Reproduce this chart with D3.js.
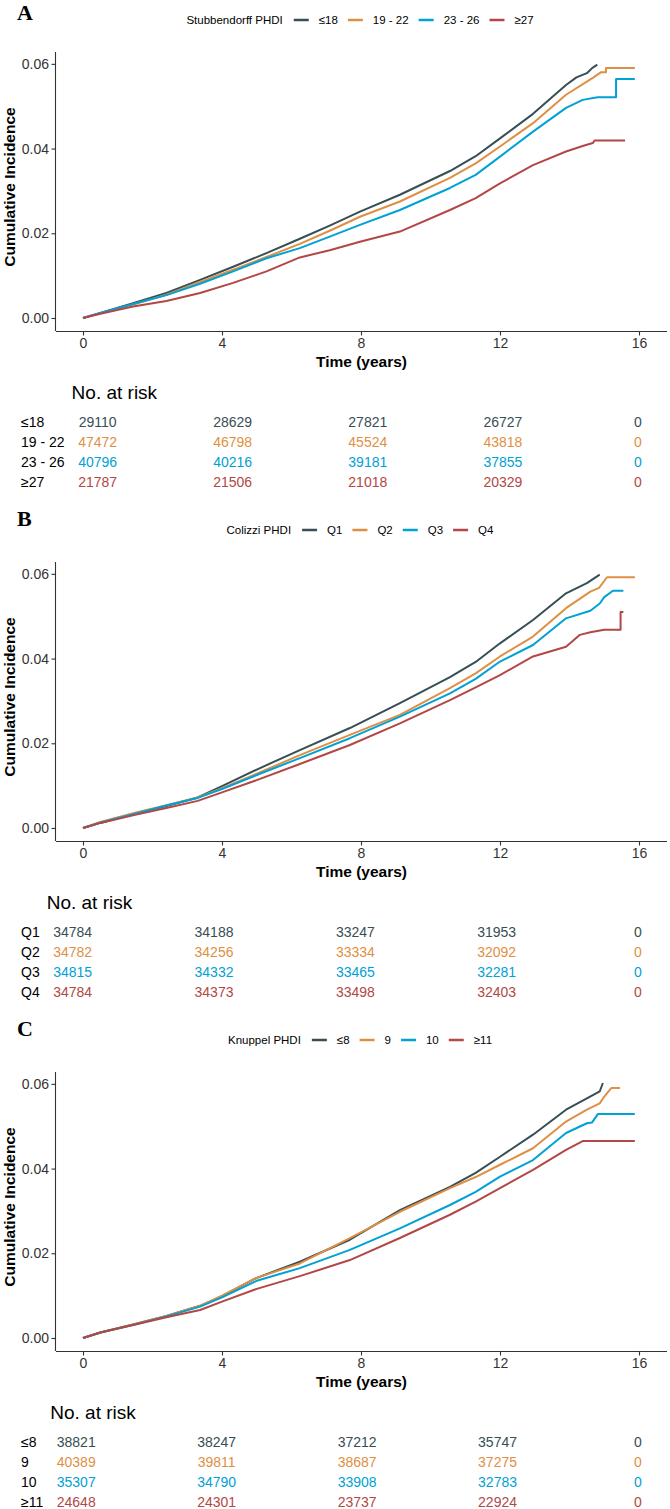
<!DOCTYPE html>
<html><head><meta charset="utf-8">
<script src="https://cdn.jsdelivr.net/npm/d3@7"></script>
<style>
html,body{margin:0;padding:0;background:#fff;}
svg{display:block;}
text{font-family:"Liberation Sans",Arial,sans-serif;}
</style></head>
<body>
<svg id="chart" width="670" height="1509"></svg>
<script>
// ---------------- DATA ----------------
const colors = ["#374E55", "#DF8F44", "#00A1D5", "#B24745"];
const xTicks = [0, 4, 8, 12, 16];
const yTicks = [0, 0.02, 0.04, 0.06];
const riskTimes = [0, 4, 8, 12, 16];

// Panel A: Stubbendorff PHDI
const stubLabels = ["\u226418", "19 - 22", "23 - 26", "\u226527"];
const stubLe18 = [[0,0],[0.5,0.0012],[1.44,0.0035],[2.4,0.0059],[3.37,0.009],[4.32,0.0121],[5.28,0.0153],[6.24,0.0187],[7.1,0.0218],[7.97,0.0251],[9.12,0.0291],[10.56,0.0347],[11.3,0.0382],[12.0,0.0424],[12.95,0.0482],[13.9,0.055],[14.2,0.0568],[14.5,0.0578],[14.65,0.059],[14.8,0.0598]];
const stub19_22 = [[0,0],[0.5,0.0011],[1.44,0.0032],[2.4,0.0055],[3.37,0.0085],[4.32,0.0114],[5.28,0.0144],[6.24,0.0175],[7.1,0.0206],[7.97,0.0239],[9.12,0.0275],[10.56,0.0331],[11.3,0.0365],[12.0,0.0405],[12.95,0.046],[13.9,0.0527],[14.67,0.0567],[14.9,0.058],[15.05,0.058],[15.05,0.059],[15.88,0.059]];
const stub23_26 = [[0,0],[0.5,0.0012],[1.44,0.0033],[2.4,0.0054],[3.37,0.0081],[4.32,0.011],[5.28,0.0141],[6.24,0.0165],[7.1,0.0192],[7.97,0.022],[9.12,0.0255],[10.56,0.0307],[11.3,0.0338],[12.0,0.0381],[12.95,0.044],[13.9,0.0496],[14.38,0.0515],[14.81,0.0521],[15.34,0.0521],[15.34,0.0564],[15.88,0.0564]];
const stubGe27 = [[0,0],[0.5,0.001],[1.44,0.0027],[2.4,0.004],[3.37,0.0059],[4.32,0.0083],[5.28,0.011],[6.24,0.0143],[7.1,0.016],[7.97,0.018],[9.12,0.0204],[10.56,0.0255],[11.3,0.0283],[12.0,0.0318],[12.95,0.0361],[13.9,0.0393],[14.38,0.0406],[14.67,0.0413],[14.72,0.0419],[15.6,0.0419]];
const stubRisk = [[29110,28629,27821,26727,0],[47472,46798,45524,43818,0],[40796,40216,39181,37855,0],[21787,21506,21018,20329,0]];

// Panel B: Colizzi PHDI
const colLabels = ["Q1", "Q2", "Q3", "Q4"];
const colQ1 = [[0,0],[0.5,0.0012],[1.5,0.0034],[2.4,0.0052],[3.3,0.0072],[4,0.0099],[5,0.0138],[6.24,0.0184],[7.68,0.0236],[9.12,0.0295],[10.56,0.0356],[11.3,0.0392],[12.0,0.0436],[12.95,0.0491],[13.9,0.0554],[14.5,0.0578],[14.87,0.0598]];
const colQ2 = [[0,0],[0.5,0.0014],[1.5,0.0036],[2.4,0.0054],[3.3,0.0072],[4,0.0094],[5,0.0128],[6.24,0.0172],[7.68,0.022],[9.12,0.0267],[10.56,0.033],[11.3,0.0365],[12.0,0.0405],[12.95,0.0452],[13.9,0.0519],[14.6,0.0558],[14.85,0.0567],[15.08,0.0592],[15.88,0.0592]];
const colQ3 = [[0,0],[0.5,0.0013],[1.5,0.0034],[2.4,0.0053],[3.3,0.0071],[4,0.0092],[5,0.0125],[6.24,0.0165],[7.68,0.0212],[9.12,0.0263],[10.56,0.0318],[11.3,0.0352],[12.0,0.0393],[12.95,0.0432],[13.9,0.0495],[14.6,0.0513],[14.87,0.053],[15.0,0.0545],[15.25,0.056],[15.55,0.056]];
const colQ4 = [[0,0],[0.5,0.0012],[1.5,0.0031],[2.4,0.0047],[3.3,0.0064],[4,0.0084],[5,0.0113],[6.24,0.0151],[7.68,0.0196],[9.12,0.0247],[10.56,0.0302],[11.3,0.0332],[12.0,0.0361],[12.95,0.0405],[13.9,0.0428],[14.3,0.0456],[14.6,0.0462],[15.0,0.0468],[15.47,0.0468],[15.47,0.051],[15.55,0.051]];
const colRisk = [[34784,34188,33247,31953,0],[34782,34256,33334,32092,0],[34815,34332,33465,32281,0],[34784,34373,33498,32403,0]];

// Panel C: Knuppel PHDI
const knuLabels = ["\u22648", "9", "10", "\u226511"];
const knuLe8 = [[0,0],[0.5,0.0013],[1.5,0.0033],[2.4,0.0052],[3.37,0.0076],[4,0.0099],[5,0.0142],[6.24,0.018],[7.68,0.0232],[9.12,0.0302],[10.56,0.0357],[11.3,0.039],[12.0,0.0428],[12.95,0.048],[13.9,0.0539],[14.5,0.0566],[14.87,0.0582],[14.96,0.0602]];
const knu9 = [[0,0],[0.5,0.0013],[1.5,0.0033],[2.4,0.0052],[3.37,0.0076],[4,0.01],[5,0.0142],[6.24,0.0176],[7.68,0.0236],[9.12,0.0298],[10.56,0.0354],[11.3,0.038],[12.0,0.0409],[12.95,0.0448],[13.9,0.0511],[14.5,0.0539],[14.87,0.0554],[15.0,0.057],[15.2,0.059],[15.45,0.059]];
const knu10 = [[0,0],[0.5,0.0013],[1.5,0.0032],[2.4,0.0051],[3.37,0.0074],[4,0.0096],[5,0.0135],[6.24,0.0165],[7.68,0.0208],[9.12,0.0259],[10.56,0.0314],[11.3,0.0345],[12.0,0.0381],[12.95,0.042],[13.9,0.0484],[14.5,0.0507],[14.65,0.0509],[14.82,0.0529],[15.88,0.0529]];
const knuGe11 = [[0,0],[0.5,0.0013],[1.5,0.0032],[2.4,0.0049],[3.37,0.0066],[4,0.0086],[5,0.0116],[6.24,0.0146],[7.68,0.0184],[9.12,0.0236],[10.56,0.0291],[11.3,0.0322],[12.0,0.0354],[12.95,0.0397],[13.9,0.0444],[14.38,0.0465],[15.88,0.0465]];
const knuRisk = [[38821,38247,37212,35747,0],[40389,39811,38687,37275,0],[35307,34790,33908,32783,0],[24648,24301,23737,22924,0]];

const panels = [
  {letter:"A", title:"Stubbendorff PHDI", labels:stubLabels, series:[stubLe18, stub19_22, stub23_26, stubGe27], risk:stubRisk},
  {letter:"B", title:"Colizzi PHDI", labels:colLabels, series:[colQ1, colQ2, colQ3, colQ4], risk:colRisk},
  {letter:"C", title:"Knuppel PHDI", labels:knuLabels, series:[knuLe8, knu9, knu10, knuGe11], risk:knuRisk}
];

// ---------------- LAYOUT ----------------
const svg = d3.select("#chart");
svg.append("rect").attr("width",670).attr("height",1509).attr("fill","#fff");
const panelH = 510;
const axL = 56, axR = 667, plotTop = 52, plotBot = 331;
const axisColor = "#333";
const textColor = "#333";

const x = d3.scaleLinear().domain([-27/34.75, (axR-83)/34.75]).range([axL, axR]);

panels.forEach((p, i) => {
  const o = i * panelH;
  const g = svg.append("g").attr("transform", `translate(0,${o})`);
  const y = d3.scaleLinear().domain([-0.00307, 0.0628]).range([plotBot, plotTop]);

  // panel letter
  g.append("text").attr("x", 17).attr("y", i===0 ? 20 : 16)
    .style("font-family", "'Liberation Serif','Times New Roman',serif")
    .attr("font-weight", "bold").attr("font-size", 22).attr("fill", "#000").text(p.letter);

  // legend
  const lg = g.append("g");
  const ly = 20;
  let cx = 0;
  const t0 = lg.append("text").attr("x", cx).attr("y", ly).attr("dy", "0.35em")
    .attr("font-size", 11.5).attr("fill", "#000").text(p.title);
  cx += t0.node().getComputedTextLength() + 11;
  p.labels.forEach((lab, k) => {
    lg.append("line").attr("x1", cx).attr("x2", cx + 15).attr("y1", ly).attr("y2", ly)
      .attr("stroke", colors[k]).attr("stroke-width", 2.5);
    cx += 25;
    const t = lg.append("text").attr("x", cx).attr("y", ly).attr("dy", "0.35em")
      .attr("font-size", 11.5).attr("fill", "#000").text(lab);
    cx += t.node().getComputedTextLength() + 10;
  });
  const lw = cx - 10;
  lg.attr("transform", `translate(${360 - lw/2},0)`);

  // axes
  const xAxis = d3.axisBottom(x).tickValues(xTicks).tickSize(4.5).tickPadding(3).tickFormat(d3.format("d"));
  const gx = g.append("g").attr("transform", `translate(0,${plotBot})`).call(xAxis);
  const yAxis = d3.axisLeft(y).tickValues(yTicks).tickSize(4.5).tickPadding(2.5).tickFormat(d3.format(".2f"));
  const gy = g.append("g").attr("transform", `translate(${axL},0)`).call(yAxis);
  [gx, gy].forEach(a => {
    a.select(".domain").attr("stroke", axisColor).attr("stroke-width", 1.1);
    a.selectAll(".tick line").attr("stroke", axisColor).attr("stroke-width", 1.1);
    a.selectAll(".tick text").attr("font-size", 14).attr("fill", textColor)
      .attr("font-family", "'Liberation Sans',Arial,sans-serif");
  });
  gx.select(".domain").attr("d", `M${axL},0.5H${axR}`);
  gy.select(".domain").attr("d", `M-0.5,${plotTop}V${plotBot}`);

  // axis titles
  g.append("text").attr("x", (axL + axR)/2).attr("y", 367).attr("text-anchor", "middle")
    .attr("font-size", 15.5).attr("font-weight", "bold").attr("fill", "#000").text("Time (years)");
  g.append("text").attr("transform", `translate(15,187) rotate(-90)`).attr("text-anchor", "middle")
    .attr("font-size", 15.5).attr("font-weight", "bold").attr("fill", "#000").text("Cumulative Incidence");

  // curves
  const line = d3.line().x(d => x(d[0])).y(d => y(d[1]));
  p.series.forEach((s, k) => {
    g.append("path").datum(s).attr("d", line).attr("fill", "none")
      .attr("stroke", colors[k]).attr("stroke-width", 2).attr("stroke-linejoin", "round");
  });

  // risk table
  const rowY = [422, 442, 462, 482];
  const labG = g.append("g");
  let maxW = 0;
  p.labels.forEach((lab, k) => {
    const t = labG.append("text").attr("x", 21).attr("y", rowY[k]).attr("dy", "0.35em")
      .attr("font-size", 14).attr("fill", "#000").text(lab);
    maxW = Math.max(maxW, t.node().getComputedTextLength());
  });
  const col0 = 21 + maxW + 33;
  const xr = d3.scaleLinear().domain([0, 16]).range([col0, 638]);
  g.append("text").attr("x", col0 - 26).attr("y", 392).attr("dy", "0.35em")
    .attr("font-size", 19).attr("fill", "#000").text("No. at risk");
  p.risk.forEach((row, k) => {
    g.selectAll(null).data(row).enter().append("text")
      .attr("x", (d, j) => xr(riskTimes[j])).attr("y", rowY[k]).attr("dy", "0.35em")
      .attr("text-anchor", "middle").attr("font-size", 14).attr("fill", colors[k])
      .text(d => d);
  });
});
</script>
</body></html>
